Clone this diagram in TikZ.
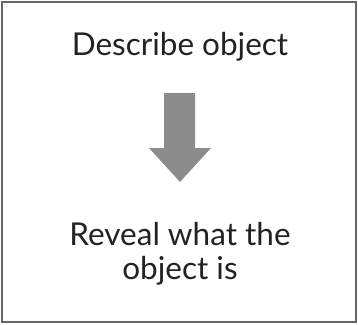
\documentclass[tikz,border=0pt]{standalone}
\usepackage{fontspec}
\setmainfont{Lato}
\definecolor{txt}{HTML}{222222}
\definecolor{arr}{HTML}{8C8C8C}
\definecolor{frame}{HTML}{666666}
\begin{document}
\begin{tikzpicture}[x=1pt,y=-1pt,
  label/.style={inner sep=0pt, text=txt, font=\fontsize{31.5}{34}\selectfont, align=center, anchor=base}]
\useasboundingbox (0,0) rectangle (358,324);
\draw[frame, line width=1.5pt] (2,2) rectangle (356,322);
\node[label] (top) at (180,55) {Describe object};
\node[label] (bot) at (180,245) {Reveal what the};
\node[label] (bot2) at (180,279) {object is};
\fill[arr] (164,93) -- (195,93) -- (195,148) -- (211,148) -- (180,182) -- (149,148) -- (164,148) -- cycle;
\end{tikzpicture}
\end{document}
